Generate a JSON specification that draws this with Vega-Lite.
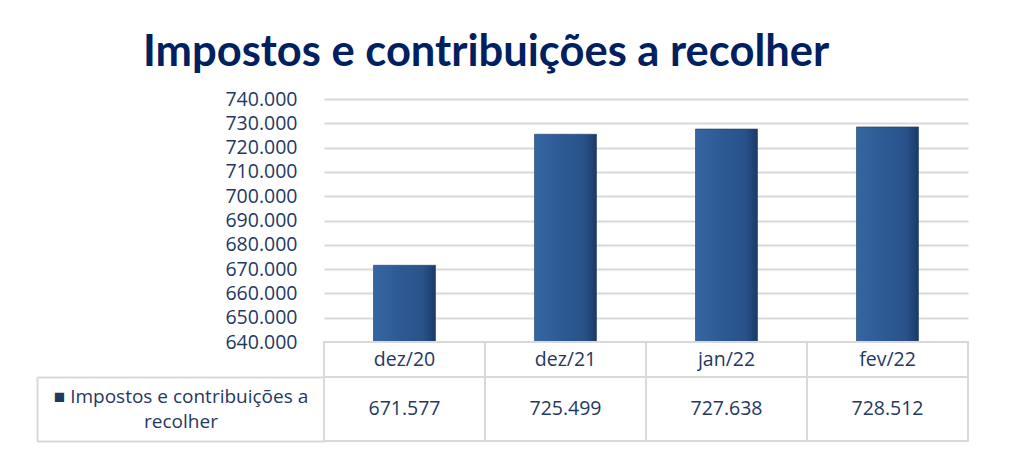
{
  "$schema": "https://vega.github.io/schema/vega-lite/v6.json",
  "background": "white",
  "padding": {"left": 36, "top": 30, "right": 47, "bottom": 27},
  "config": {
    "view": {"stroke": null},
    "locale": {"number": {"decimal": ",", "thousands": ".", "grouping": [3], "currency": ["R$", ""]}},
    "font": "Open Sans"
  },
  "data": {
    "values": [
      {"mes": "dez/20", "valor": 671577, "serie": "Impostos e contribuições a recolher", "linha": "mes"},
      {"mes": "dez/21", "valor": 725499, "serie": "Impostos e contribuições a recolher", "linha": "mes"},
      {"mes": "jan/22", "valor": 727638, "serie": "Impostos e contribuições a recolher", "linha": "mes"},
      {"mes": "fev/22", "valor": 728512, "serie": "Impostos e contribuições a recolher", "linha": "mes"}
    ]
  },
  "spacing": 0,
  "bounds": "flush",
  "resolve": {"scale": {"x": "independent", "y": "independent"}},
  "vconcat": [
    {
      "width": 644,
      "height": 243,
      "title": {
        "text": "Impostos e contribuições a recolher",
        "font": "Lato",
        "fontSize": 43.5,
        "fontWeight": "bold",
        "color": "#002060",
        "anchor": "start",
        "frame": "group",
        "dx": -181,
        "offset": 14
      },
      "mark": {
        "type": "bar",
        "color": {
          "gradient": "linear",
          "x1": 0, "y1": 0, "x2": 1, "y2": 0,
          "stops": [
            {"offset": 0, "color": "#3566A3"},
            {"offset": 0.45, "color": "#2D5993"},
            {"offset": 0.8, "color": "#29528A"},
            {"offset": 1, "color": "#1B3A68"}
          ]
        },
        "stroke": "#1F3A64",
        "strokeWidth": 0.6
      },
      "encoding": {
        "x": {
          "field": "mes",
          "type": "nominal",
          "sort": null,
          "scale": {"paddingInner": 0.615, "paddingOuter": 0.3075},
          "axis": null
        },
        "y": {
          "field": "valor",
          "type": "quantitative",
          "scale": {"domain": [640000, 740000], "zero": false, "nice": false},
          "axis": {
            "title": null,
            "values": [640000, 650000, 660000, 670000, 680000, 690000, 700000, 710000, 720000, 730000, 740000],
            "format": ",d",
            "grid": true,
            "gridColor": "#D9D9D9",
            "gridWidth": 2,
            "domain": false,
            "ticks": false,
            "labelPadding": 27,
            "labelFont": "Open Sans",
            "labelFontSize": 19.5,
            "labelColor": "#1F3864"
          }
        },
        "y2": {"datum": 640000}
      }
    },
    {
      "width": 644,
      "height": 35,
      "encoding": {
        "x": {
          "field": "mes",
          "type": "nominal",
          "sort": null,
          "scale": {"paddingInner": 0, "paddingOuter": 0},
          "axis": null
        },
        "y": {
          "field": "linha",
          "type": "nominal",
          "scale": {"paddingInner": 0, "paddingOuter": 0},
          "axis": null
        }
      },
      "layer": [
        {"mark": {"type": "rect", "fill": "white", "stroke": "#D9D9D9", "strokeWidth": 2}},
        {
          "mark": {"type": "text", "font": "Open Sans", "fontSize": 19.5, "color": "#1F3864"},
          "encoding": {"text": {"field": "mes"}}
        }
      ]
    },
    {
      "width": 644,
      "height": 64,
      "encoding": {
        "x": {
          "field": "mes",
          "type": "nominal",
          "sort": null,
          "scale": {"paddingInner": 0, "paddingOuter": 0},
          "axis": null
        },
        "y": {
          "field": "serie",
          "type": "nominal",
          "scale": {"paddingInner": 0, "paddingOuter": 0},
          "axis": {
            "title": null,
            "orient": "left",
            "offset": 287,
            "domain": true,
            "domainColor": "#D9D9D9",
            "domainWidth": 2,
            "ticks": true,
            "tickBand": "extent",
            "tickSize": -287,
            "tickColor": "#D9D9D9",
            "tickWidth": 2,
            "labelExpr": "datum.index < 0 ? '' : ['■ Impostos e contribuições a', 'recolher']",
            "labelAlign": "center",
            "labelBaseline": "middle",
            "labelOffset": -13,
            "labelPadding": 143.5,
            "labelLineHeight": 25,
            "labelLimit": 0,
            "labelFont": "Open Sans",
            "labelFontSize": 19,
            "labelColor": "#1F3864"
          }
        }
      },
      "layer": [
        {"mark": {"type": "rect", "fill": "white", "stroke": "#D9D9D9", "strokeWidth": 2}},
        {
          "mark": {"type": "text", "font": "Open Sans", "fontSize": 19.5, "color": "#1F3864"},
          "encoding": {"text": {"field": "valor", "type": "quantitative", "format": ",d"}}
        }
      ]
    }
  ]
}
